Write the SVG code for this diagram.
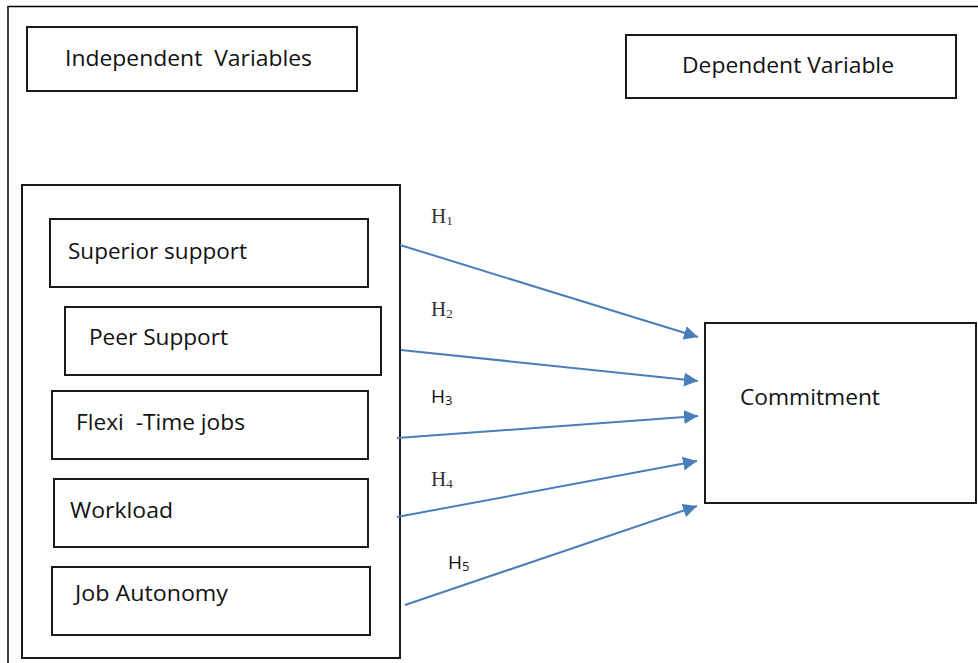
<svg xmlns="http://www.w3.org/2000/svg" width="978" height="663" viewBox="0 0 978 663">
<defs>
<marker id="ah" viewBox="0 0 10 10" refX="10" refY="5" markerWidth="14" markerHeight="14" markerUnits="userSpaceOnUse" orient="auto">
<path d="M0,0 L10,5 L0,10 z" fill="#4a7ebb"/>
</marker>
<style>
.box{fill:#fff;stroke:#1a1a1a;stroke-width:2}
.t{font-family:"Open Sans","Noto Sans",sans-serif;font-size:21px;fill:#111;white-space:pre}
.hs{font-family:"Liberation Serif",serif;font-size:21px;fill:#333}
.hn{font-family:"Open Sans","Noto Sans",sans-serif;font-size:19px;fill:#111}
.sub{font-size:13px}
.c{stroke:#4a7ebb;stroke-width:2;fill:none;marker-end:url(#ah)}
</style>
</defs>
<rect width="978" height="663" fill="#fff"/>
<path d="M8,663 V6.5 H978" fill="none" stroke="#000" stroke-width="1.5"/>
<g id="independent-label">
<rect class="box" x="27" y="27" width="330" height="64"/>
<text class="t" x="65" y="66" textLength="247" lengthAdjust="spacingAndGlyphs" xml:space="preserve">Independent  Variables</text>
</g>
<g id="dependent-label">
<rect class="box" x="626" y="35" width="330" height="63"/>
<text class="t" x="682" y="73" textLength="212" lengthAdjust="spacingAndGlyphs">Dependent Variable</text>
</g>
<g id="independent-group">
<rect class="box" x="22" y="185" width="378" height="473"/>
</g>
<g id="superior-support">
<rect class="box" x="50" y="219" width="318" height="68"/>
<text class="t" x="68" y="259" textLength="179" lengthAdjust="spacingAndGlyphs">Superior support</text>
</g>
<g id="peer-support">
<rect class="box" x="65" y="307" width="316" height="68"/>
<text class="t" x="89" y="345" textLength="139" lengthAdjust="spacingAndGlyphs">Peer Support</text>
</g>
<g id="flexi-time">
<rect class="box" x="52" y="391" width="316" height="68"/>
<text class="t" x="76" y="430" textLength="169" lengthAdjust="spacingAndGlyphs" xml:space="preserve">Flexi  -Time jobs</text>
</g>
<g id="workload">
<rect class="box" x="54" y="479" width="314" height="68"/>
<text class="t" x="70" y="518" textLength="103" lengthAdjust="spacingAndGlyphs">Workload</text>
</g>
<g id="job-autonomy">
<rect class="box" x="52" y="567" width="318" height="68"/>
<text class="t" x="75" y="601" textLength="153" lengthAdjust="spacingAndGlyphs">Job Autonomy</text>
</g>
<g id="commitment">
<rect class="box" x="705" y="323" width="271" height="180"/>
<text class="t" x="740" y="405" textLength="140" lengthAdjust="spacingAndGlyphs">Commitment</text>
</g>
<g id="connectors">
<line class="c" x1="400" y1="245" x2="698" y2="337"/>
<line class="c" x1="401" y1="350" x2="698" y2="381"/>
<line class="c" x1="397" y1="438" x2="698" y2="416"/>
<line class="c" x1="397" y1="517" x2="697" y2="461"/>
<line class="c" x1="405" y1="605" x2="697" y2="506"/>
<text class="hs" x="431" y="223">H<tspan class="sub" dy="2">1</tspan></text>
<text class="hs" x="431" y="316">H<tspan class="sub" dy="2">2</tspan></text>
<text class="hn" x="431" y="403">H<tspan class="sub" dy="2">3</tspan></text>
<text class="hs" x="431" y="486">H<tspan class="sub" dy="2">4</tspan></text>
<text class="hn" x="448" y="569">H<tspan class="sub" dy="2">5</tspan></text>
</g>
</svg>
